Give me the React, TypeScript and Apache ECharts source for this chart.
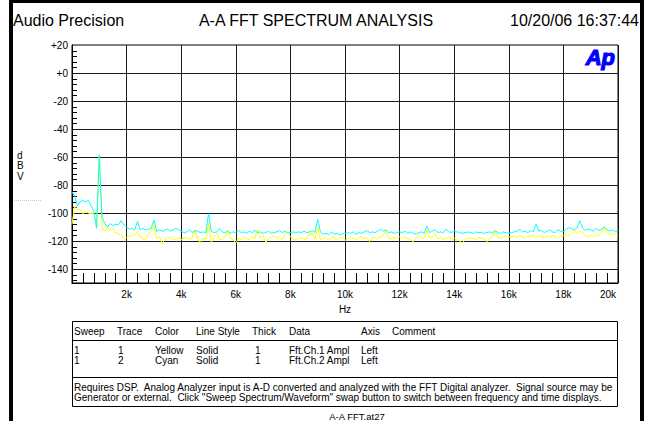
import React, { useEffect, useRef } from "react";
import * as echarts from "echarts";

// ---------- DATA ----------
const FREQ_START_HZ = 0;
const FREQ_STEP_HZ = 100;

// Trace 1 (Yellow) Fft.Ch.1 Ampl, dBV, one value per 100 Hz bin from 0 Hz to 20 kHz
const YELLOW_CH1_DBV = [
  -108, -95, -97.5, -97.5, -100.5, -99, -100, -100.5, -100, -108, -60,
  -110, -113, -110.5, -112, -111, -114, -115, -115.5, -118, -117.5,
  -116.5, -116, -115.5, -113, -117, -118.5, -119.3, -114.5, -113, -108.6,
  -118, -117, -121.5, -119, -118, -117.5, -119, -118.5, -117.5, -119,
  -118, -117.5, -119, -118, -112, -118.5, -121.5, -118, -119, -107,
  -121, -118, -114, -118.5, -119, -117.5, -112, -118, -119, -121.5,
  -118, -119, -117.5, -118.5, -119, -117, -118, -111.5, -118, -116,
  -121, -118, -117.5, -116, -118, -117, -119, -115, -113.5, -117,
  -118.5, -119, -118, -117.5, -119, -118.5, -115, -114.5, -119, -110.5,
  -119, -118, -117.5, -119.5, -118, -117, -119.5, -118, -117, -119.5,
  -118.5, -117, -118, -119, -117.5, -116.5, -118.5, -117.5, -120.5, -118,
  -117.5, -118.5, -117, -116, -112.5, -118, -118.5, -117.5, -118, -117,
  -118, -117, -118.5, -119, -120.5, -118, -117, -117.5, -118, -112.5,
  -118, -117, -114.5, -118.5, -117.5, -119, -118, -117, -118.5, -118,
  -119, -120, -121.5, -119, -118, -117.5, -118.5, -119, -117.5, -118,
  -118.5, -120.5, -118, -117.5, -112.5, -117, -118, -117.5, -116.5, -117,
  -117, -116.5, -117.5, -116, -117, -118, -116.5, -117, -116, -117.5,
  -116.5, -117, -118, -116.5, -117.5, -116, -117, -118, -116.5, -116,
  -115.5, -116, -114.5, -112, -115, -113, -114.5, -116, -117, -116,
  -117, -115.5, -116, -114.5, -109.5, -114, -115, -116, -115, -116,
];

// Trace 2 (Cyan) Fft.Ch.2 Ampl, dBV, one value per 100 Hz bin from 0 Hz to 20 kHz
const CYAN_CH2_DBV = [
  -85, -88, -95, -92, -91, -92, -91, -95, -98.5, -111, -58.5,
  -103, -107.5, -110, -107.5, -109, -108, -108.5, -105.5, -108.5, -110,
  -111.5, -111, -112, -106, -112, -111, -112, -111.5, -111, -105,
  -113.3, -112, -113, -112.5, -111.5, -113, -112, -111, -112, -113,
  -114, -113.5, -112, -114, -112.5, -113, -114, -113.5, -114, -100.5,
  -113, -114, -113.5, -111, -113.5, -114, -113, -114.5, -113.5, -114,
  -112.5, -114, -113.5, -114.5, -113, -114, -112.5, -114, -113.5, -114.5,
  -114, -113, -114.5, -114, -113.5, -112.5, -114, -113, -114.5, -114,
  -113.5, -114, -113.5, -114, -113, -114, -113.5, -112.5, -114, -104.5,
  -113.5, -115, -114.5, -115.5, -113.5, -115, -114.5, -115.5, -115, -114.5,
  -114, -114.5, -113.5, -115, -114, -114.5, -113.5, -112.5, -114, -113.5,
  -114, -113, -111.5, -113, -112, -114, -113.5, -114.5, -114, -113.5,
  -114, -113, -114.5, -113.5, -114.5, -115, -114, -113.5, -114.5, -109.5,
  -114, -113, -112, -114, -113.5, -114, -111.5, -113.5, -114, -113,
  -113.5, -114, -114.5, -114, -113.5, -114, -114.5, -113.5, -114, -114,
  -114.5, -114, -113.5, -114, -112.5, -114, -114.5, -113.5, -114, -114.5,
  -114, -113.5, -113, -111.5, -113.5, -113, -114, -112.5, -113.5, -108,
  -113, -112.5, -114, -113, -112, -113.5, -114, -112, -113, -113.5,
  -111.5, -110.5, -111, -112, -110.5, -105.5, -110.5, -112.5, -111.5, -112,
  -113, -111, -112.5, -111.5, -110, -112, -113, -112, -113.5, -112.5,
];

const X_MIN_HZ = 0;
const X_MAX_HZ = 20000;
const X_MAJOR_HZ = 2000;
const Y_MIN_DBV = -150;
const Y_MAX_DBV = 20;
const Y_GRID_DBV = [0, -20, -40, -60, -80, -100, -120, -140];
const Y_MINOR_STEP_DBV = 4;

const HEADER_LEFT = "Audio Precision";
const HEADER_TITLE = "A-A FFT SPECTRUM ANALYSIS";
const HEADER_DATE = "10/20/06 16:37:44";
const Y_UNIT_LETTERS = ["d", "B", "V"];
const X_UNIT = "Hz";
const LOGO_TEXT = "Ap";
const TABLE_HEADER = ["Sweep", "Trace", "Color", "Line Style", "Thick", "Data", "Axis", "Comment"];
const TABLE_ROWS = [
  ["1", "1", "Yellow", "Solid", "1", "Fft.Ch.1 Ampl", "Left"],
  ["1", "2", "Cyan", "Solid", "1", "Fft.Ch.2 Ampl", "Left"],
];
const NOTE_LINES = [
  "Requires DSP.  Analog Analyzer input is A-D converted and analyzed with the FFT Digital analyzer.  Signal source may be",
  "Generator or external.  Click \"Sweep Spectrum/Waveform\" swap button to switch between frequency and time displays.",
];
const FILE_NAME = "A-A FFT.at27";

// ---------- STYLE ----------
const FONT = "'Liberation Sans', Arial, sans-serif";
const YELLOW = "#ffff00";
const CYAN = "#00ffff";
const GRID_COLOR = "#1a1a1a";

const GRID_LEFT = 72;
const GRID_TOP = 45;
const GRID_W = 546;
const GRID_H = 238;

function txt(text: string, x: number, y: number, size: number, align = "left", extra: any = {}) {
  return {
    type: "text",
    x,
    y,
    silent: true,
    style: {
      text,
      fontSize: size,
      fontFamily: FONT,
      fill: "#000",
      align,
      textAlign: align,
      verticalAlign: "middle",
      textVerticalAlign: "middle",
      ...extra,
    },
  };
}

export default function App() {
  const ref = useRef<HTMLDivElement>(null);

  useEffect(() => {
    if (!ref.current) return;
    const chart = echarts.init(ref.current, null, { renderer: "svg" });

    const toPairs = (vals: number[]) =>
      vals.map((v, i) => [FREQ_START_HZ + i * FREQ_STEP_HZ, v]);

    const yMinor: number[][] = [];
    for (let v = Y_MAX_DBV - Y_MINOR_STEP_DBV; v > Y_MIN_DBV; v -= Y_MINOR_STEP_DBV) {
      if (v % 20 !== 0) yMinor.push([X_MIN_HZ, v]);
    }

    const colX = [74, 117, 155, 196, 252, 289, 361, 392];
    const rowX = [74, 118, 155, 196, 255, 289, 361];

    const graphics: any[] = [];
    // outer frame bars
    graphics.push({ type: "rect", silent: true, shape: { x: 9, y: 0, width: 635, height: 3 }, style: { fill: "#000" } });
    graphics.push({ type: "rect", silent: true, shape: { x: 9, y: 0, width: 4, height: 421 }, style: { fill: "#000" } });
    graphics.push({ type: "rect", silent: true, shape: { x: 640, y: 0, width: 4, height: 421 }, style: { fill: "#000" } });
    // header
    graphics.push(txt(HEADER_LEFT, 13, 20, 16));
    graphics.push(txt(HEADER_TITLE, 316, 20, 16, "center"));
    graphics.push(txt(HEADER_DATE, 639, 20, 16, "right"));
    // y unit
    Y_UNIT_LETTERS.forEach((l, i) => graphics.push(txt(l, 17, 155 + i * 10.5, 10)));
    graphics.push({
      type: "line",
      silent: true,
      shape: { x1: 14, y1: 200.5, x2: 41, y2: 200.5 },
      style: { stroke: "#c8c8c8", lineWidth: 1, lineDash: [1, 1] },
    });
    // x unit
    graphics.push(txt(X_UNIT, 345, 309, 10, "center"));
    // logo
    graphics.push(
      txt(LOGO_TEXT, 615, 57, 22, "right", {
        fill: "#0000ff",
        stroke: "#0000ff",
        lineWidth: 1.2,
        fontWeight: "bold",
        fontStyle: "italic",
        fontFamily: "Arial, 'Liberation Sans', sans-serif",
      })
    );
    // table box 1
    graphics.push({ type: "rect", silent: true, shape: { x: 72.5, y: 321.5, width: 545, height: 56 }, style: { fill: "none", stroke: "#000", lineWidth: 1 } });
    graphics.push({ type: "line", silent: true, shape: { x1: 72.5, y1: 340.5, x2: 617.5, y2: 340.5 }, style: { stroke: "#000", lineWidth: 1 } });
    TABLE_HEADER.forEach((h, i) => graphics.push(txt(h, colX[i], 331.5, 10)));
    TABLE_ROWS.forEach((row, r) =>
      row.forEach((c, i) => graphics.push(txt(c, rowX[i], 350.5 + r * 10, 10)))
    );
    // table box 2
    graphics.push({ type: "rect", silent: true, shape: { x: 72.5, y: 377.5, width: 545, height: 29 }, style: { fill: "none", stroke: "#000", lineWidth: 1 } });
    NOTE_LINES.forEach((l, i) => graphics.push(txt(l, 74, 387.5 + i * 10, 10)));
    // file name
    graphics.push(txt(FILE_NAME, 357, 416, 9.5, "center"));

    chart.setOption({
      animation: false,
      backgroundColor: "#fff",
      grid: {
        left: GRID_LEFT,
        top: GRID_TOP,
        width: GRID_W,
        height: GRID_H,
        show: true,
        borderColor: "#000",
        borderWidth: 1,
        backgroundColor: "transparent",
      },
      xAxis: {
        type: "value",
        min: X_MIN_HZ,
        max: X_MAX_HZ,
        interval: X_MAJOR_HZ,
        axisLine: { show: true, onZero: false, lineStyle: { color: "#000", width: 1 } },
        axisTick: { show: true, inside: true, length: 10, lineStyle: { color: "#000" } },
        minorTick: { show: true, splitNumber: 5, length: 10, lineStyle: { color: "#000", width: 1 } },
        splitLine: { show: true, lineStyle: { color: GRID_COLOR, width: 1 } },
        axisLabel: {
          margin: 6,
          fontSize: 10,
          fontFamily: FONT,
          color: "#000",
          formatter: (v: number) =>
            v === X_MIN_HZ ? "" : v === X_MAX_HZ ? "{r|" + v / 1000 + "k}" : v / 1000 + "k",
          rich: {
            r: { fontSize: 10, fontFamily: FONT, color: "#000", padding: [0, 20, 0, 0] },
          },
        },
      },
      yAxis: {
        type: "value",
        min: Y_MIN_DBV,
        max: Y_MAX_DBV,
        interval: 10,
        axisLine: { show: true, onZero: false, lineStyle: { color: "#000", width: 1 } },
        axisTick: { show: false },
        splitLine: { show: false },
        axisLabel: {
          margin: 4,
          fontSize: 10,
          fontFamily: FONT,
          color: "#000",
          formatter: (v: number) =>
            v % 20 !== 0 ? "" : v >= 0 ? "+" + v : String(v),
        },
      },
      graphic: { elements: graphics },
      series: [
        {
          type: "custom",
          silent: true,
          z: 1,
          data: Y_GRID_DBV.map((v) => [X_MIN_HZ, v]),
          encode: { x: 0, y: 1 },
          renderItem: (_p: any, api: any) => {
            const v = api.value(1);
            const a = api.coord([X_MIN_HZ, v]);
            const b = api.coord([X_MAX_HZ, v]);
            const y = Math.round(a[1]) + 0.5;
            return {
              type: "line",
              shape: { x1: a[0], y1: y, x2: b[0], y2: y },
              style: { stroke: GRID_COLOR, lineWidth: 1 },
            };
          },
        },
        {
          type: "custom",
          silent: true,
          z: 1,
          data: yMinor,
          encode: { x: 0, y: 1 },
          renderItem: (_p: any, api: any) => {
            const v = api.value(1);
            const a = api.coord([X_MIN_HZ, v]);
            const y = Math.round(a[1]) + 0.5;
            return {
              type: "line",
              shape: { x1: a[0], y1: y, x2: a[0] + 5, y2: y },
              style: { stroke: "#000", lineWidth: 1 },
            };
          },
        },
        {
          name: "Fft.Ch.1 Ampl",
          type: "line",
          z: 3,
          data: toPairs(YELLOW_CH1_DBV),
          showSymbol: false,
          symbol: "none",
          lineStyle: { color: YELLOW, width: 1 },
          itemStyle: { color: YELLOW },
        },
        {
          name: "Fft.Ch.2 Ampl",
          type: "line",
          z: 4,
          data: toPairs(CYAN_CH2_DBV),
          showSymbol: false,
          symbol: "none",
          lineStyle: { color: CYAN, width: 1 },
          itemStyle: { color: CYAN },
        },
      ],
    });

    return () => chart.dispose();
  }, []);

  return (
    <div
      ref={ref}
      style={{ position: "absolute", left: 0, top: 0, width: 646, height: 421, background: "#fff" }}
    />
  );
}
